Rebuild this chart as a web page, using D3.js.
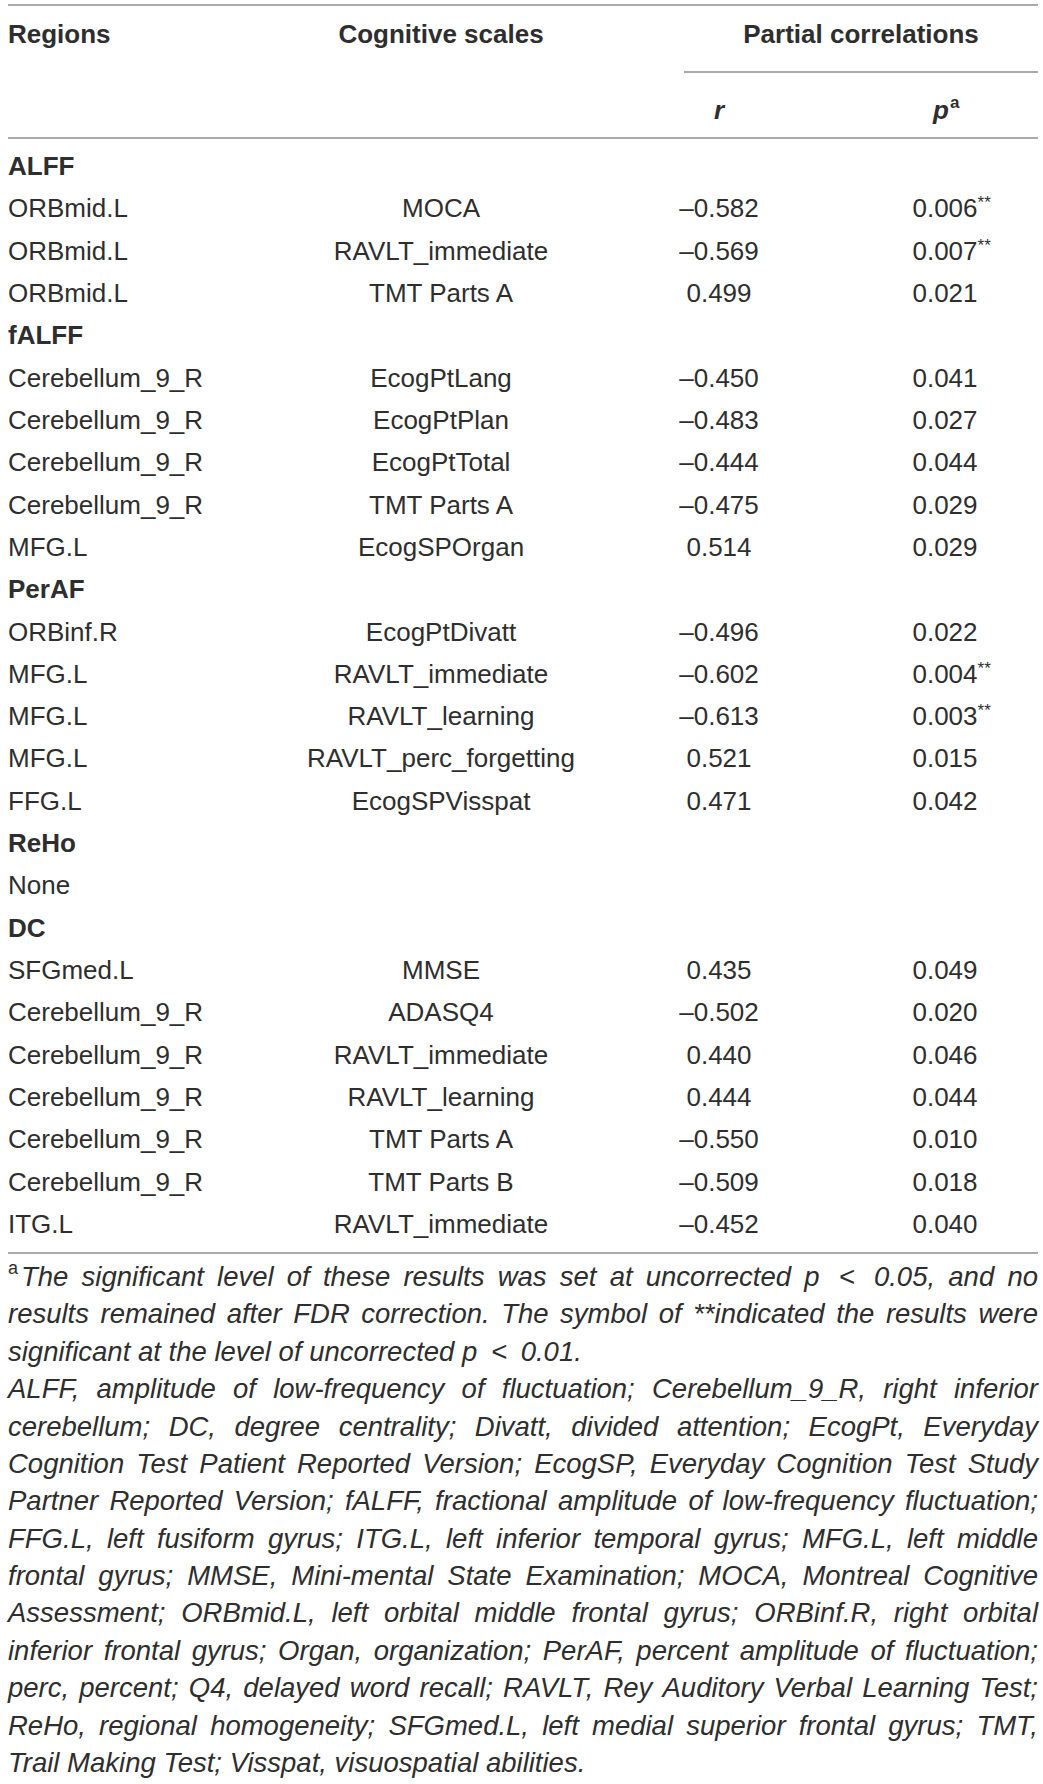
<!DOCTYPE html>
<html>
<head>
<meta charset="utf-8">
<script src="https://cdn.jsdelivr.net/npm/d3@7"></script>
<style>
  body { margin: 0; background: #fff; }
</style>
</head>
<body>
<div id="table"></div>
<script>
const FRAME_WIDTH = 1043;
const FRAME_HEIGHT = 1784;
const LEFT = 8, RIGHT = 1038;
const TEXT_COLOR = "#2e2e2e";
const RULE_COLOR = "#8e8e8e";

// table content
const groups = ["ALFF", "fALFF", "PerAF", "ReHo", "DC"];
const rowGroup = ["ALFF", "ALFF", "ALFF",
                  "fALFF", "fALFF", "fALFF", "fALFF", "fALFF",
                  "PerAF", "PerAF", "PerAF", "PerAF", "PerAF",
                  "DC", "DC", "DC", "DC", "DC", "DC", "DC"];
const regions = ["ORBmid.L", "ORBmid.L", "ORBmid.L",
                 "Cerebellum_9_R", "Cerebellum_9_R", "Cerebellum_9_R", "Cerebellum_9_R", "MFG.L",
                 "ORBinf.R", "MFG.L", "MFG.L", "MFG.L", "FFG.L",
                 "SFGmed.L", "Cerebellum_9_R", "Cerebellum_9_R", "Cerebellum_9_R",
                 "Cerebellum_9_R", "Cerebellum_9_R", "ITG.L"];
const scales = ["MOCA", "RAVLT_immediate", "TMT Parts A",
                "EcogPtLang", "EcogPtPlan", "EcogPtTotal", "TMT Parts A", "EcogSPOrgan",
                "EcogPtDivatt", "RAVLT_immediate", "RAVLT_learning", "RAVLT_perc_forgetting", "EcogSPVisspat",
                "MMSE", "ADASQ4", "RAVLT_immediate", "RAVLT_learning",
                "TMT Parts A", "TMT Parts B", "RAVLT_immediate"];
const rValues = [-0.582, -0.569, 0.499,
                 -0.450, -0.483, -0.444, -0.475, 0.514,
                 -0.496, -0.602, -0.613, 0.521, 0.471,
                 0.435, -0.502, 0.440, 0.444, -0.550, -0.509, -0.452];
const pValues = [0.006, 0.007, 0.021,
                 0.041, 0.027, 0.044, 0.029, 0.029,
                 0.022, 0.004, 0.003, 0.015, 0.042,
                 0.049, 0.020, 0.046, 0.044, 0.010, 0.018, 0.040];
const headers = ["Regions", "Cognitive scales", "Partial correlations"];

// footnote, broken into lines as in the source table
const noteA = [
  "The significant level of these results was set at uncorrected p < 0.05, and no",
  "results remained after FDR correction. The symbol of **indicated the results were",
  "significant at the level of uncorrected p < 0.01."
];
const noteB = [
  "ALFF, amplitude of low-frequency of fluctuation; Cerebellum_9_R, right inferior",
  "cerebellum; DC, degree centrality; Divatt, divided attention; EcogPt, Everyday",
  "Cognition Test Patient Reported Version; EcogSP, Everyday Cognition Test Study",
  "Partner Reported Version; fALFF, fractional amplitude of low-frequency fluctuation;",
  "FFG.L, left fusiform gyrus; ITG.L, left inferior temporal gyrus; MFG.L, left middle",
  "frontal gyrus; MMSE, Mini-mental State Examination; MOCA, Montreal Cognitive",
  "Assessment; ORBmid.L, left orbital middle frontal gyrus; ORBinf.R, right orbital",
  "inferior frontal gyrus; Organ, organization; PerAF, percent amplitude of fluctuation;",
  "perc, percent; Q4, delayed word recall; RAVLT, Rey Auditory Verbal Learning Test;",
  "ReHo, regional homogeneity; SFGmed.L, left medial superior frontal gyrus; TMT,",
  "Trail Making Test; Visspat, visuospatial abilities."
];

// build the row list: group label, then its rows (or "None")
const rows = [];
groups.forEach((g) => {
  rows.push({type: "group", label: g});
  const idx = d3.range(rowGroup.length).filter((i) => rowGroup[i] === g);
  if (idx.length === 0) rows.push({type: "none"});
  idx.forEach((i) => rows.push({type: "data", i: i}));
});

const FRAME = d3.select("#table")
  .append("svg")
    .attr("width", FRAME_WIDTH)
    .attr("height", FRAME_HEIGHT)
    .style("font-family", "'Liberation Sans', Arial, sans-serif")
    .attr("fill", TEXT_COLOR);

// row and column scales
const Y_SCALE = d3.scalePoint()
  .domain(d3.range(rows.length))
  .range([175, 1233]);
const X_COL = d3.scaleOrdinal()
  .domain(["region", "scale", "r", "p", "partial"])
  .range([LEFT, 441, 719, 945, 861]);
const fmt = d3.format(".3f");

// rules
const rules = [
  {y: 5, x1: LEFT, x2: RIGHT},
  {y: 72, x1: 684, x2: RIGHT},
  {y: 138, x1: LEFT, x2: RIGHT},
  {y: 1253, x1: LEFT, x2: RIGHT}
];
FRAME.selectAll(".rule")
  .data(rules)
  .enter()
  .append("line")
    .attr("x1", (d) => d.x1)
    .attr("x2", (d) => d.x2)
    .attr("y1", (d) => d.y)
    .attr("y2", (d) => d.y)
    .attr("stroke", RULE_COLOR)
    .attr("stroke-width", 1.6);

// header
const HEAD = FRAME.append("g")
  .attr("font-weight", "bold")
  .attr("font-size", 26);
HEAD.append("text").attr("x", X_COL("region")).attr("y", 43).text(headers[0]);
HEAD.append("text").attr("x", X_COL("scale")).attr("y", 43)
  .attr("text-anchor", "middle").text(headers[1]);
HEAD.append("text").attr("x", X_COL("partial")).attr("y", 43)
  .attr("text-anchor", "middle").text(headers[2]);
HEAD.append("text").attr("x", X_COL("r")).attr("y", 119)
  .attr("text-anchor", "middle").attr("font-style", "italic").text("r");
const pHead = HEAD.append("text").attr("x", X_COL("p") - 4).attr("y", 119)
  .attr("text-anchor", "middle").attr("font-style", "italic").text("p");
const pw = pHead.node().getComputedTextLength();
HEAD.append("text").attr("x", X_COL("p") - 4 + pw / 2 + 1).attr("y", 108)
  .attr("font-size", 17).text("a");

// body rows
const BODY = FRAME.append("g").attr("font-size", 26);

BODY.selectAll(".grp")
  .data(rows.filter((d) => d.type !== "data"))
  .enter()
  .append("text")
    .attr("x", X_COL("region"))
    .attr("y", (d) => Y_SCALE(rows.indexOf(d)))
    .attr("font-weight", (d) => d.type === "group" ? "bold" : "normal")
    .text((d) => d.type === "group" ? d.label : "None");

const dataRows = BODY.selectAll(".row")
  .data(rows.filter((d) => d.type === "data"))
  .enter()
  .append("g")
    .attr("transform", (d) => "translate(0," + Y_SCALE(rows.indexOf(d)) + ")");

dataRows.append("text")
  .attr("x", X_COL("region"))
  .text((d) => regions[d.i]);
dataRows.append("text")
  .attr("x", X_COL("scale"))
  .attr("text-anchor", "middle")
  .text((d) => scales[d.i]);
dataRows.append("text")
  .attr("x", X_COL("r"))
  .attr("text-anchor", "middle")
  .text((d) => fmt(rValues[d.i]).replace("−", "–"));
dataRows.append("text")
  .attr("class", "pval")
  .attr("x", X_COL("p"))
  .attr("text-anchor", "middle")
  .text((d) => fmt(pValues[d.i]));
// ** marks for p < 0.01
dataRows.filter((d) => pValues[d.i] < 0.01)
  .append("text")
    .attr("x", function() {
      const t = d3.select(this.parentNode).select(".pval").node();
      return X_COL("p") + t.getComputedTextLength() / 2;
    })
    .attr("y", -9)
    .attr("font-size", 17)
    .text("**");

// footnotes, justified
const NOTE = FRAME.append("g")
  .attr("font-size", 27.5)
  .attr("font-style", "italic");
const noteLines = noteA.map((t, i) => ({text: t, first: i === 0, last: i === noteA.length - 1}))
  .concat(noteB.map((t, i) => ({text: t, first: false, last: i === noteB.length - 1})));
const NOTE_Y = d3.scalePoint()
  .domain(d3.range(noteLines.length))
  .range([1286, 1772]);

// width of a normal space
const probe1 = NOTE.append("text").text("a a");
const probe2 = NOTE.append("text").text("aa");
const SPACE = probe1.node().getComputedTextLength() - probe2.node().getComputedTextLength();
probe1.remove(); probe2.remove();

noteLines.forEach((line, li) => {
  const y = NOTE_Y(li);
  let x0 = LEFT;
  if (line.first) {
    NOTE.append("text")
      .attr("x", LEFT).attr("y", y - 12)
      .attr("font-size", 18).attr("font-style", "normal")
      .text("a");
    x0 = 21;
  }
  const words = line.text.split(" ");
  const nodes = words.map((w) => NOTE.append("text").attr("y", y).text(w));
  // the "<" sign gets a little extra room on both sides
  const pads = words.map((w) => w === "<" ? 6 : 0);
  const widths = nodes.map((n, i) => n.node().getComputedTextLength() + 2 * pads[i]);
  let gap = SPACE;
  if (!line.last && words.length > 1) {
    gap = Math.max(SPACE * 0.5, (RIGHT - x0 - d3.sum(widths)) / (words.length - 1));
  }
  let x = x0;
  nodes.forEach((n, i) => { n.attr("x", x + pads[i]); x += widths[i] + gap; });
});
</script>
</body>
</html>
